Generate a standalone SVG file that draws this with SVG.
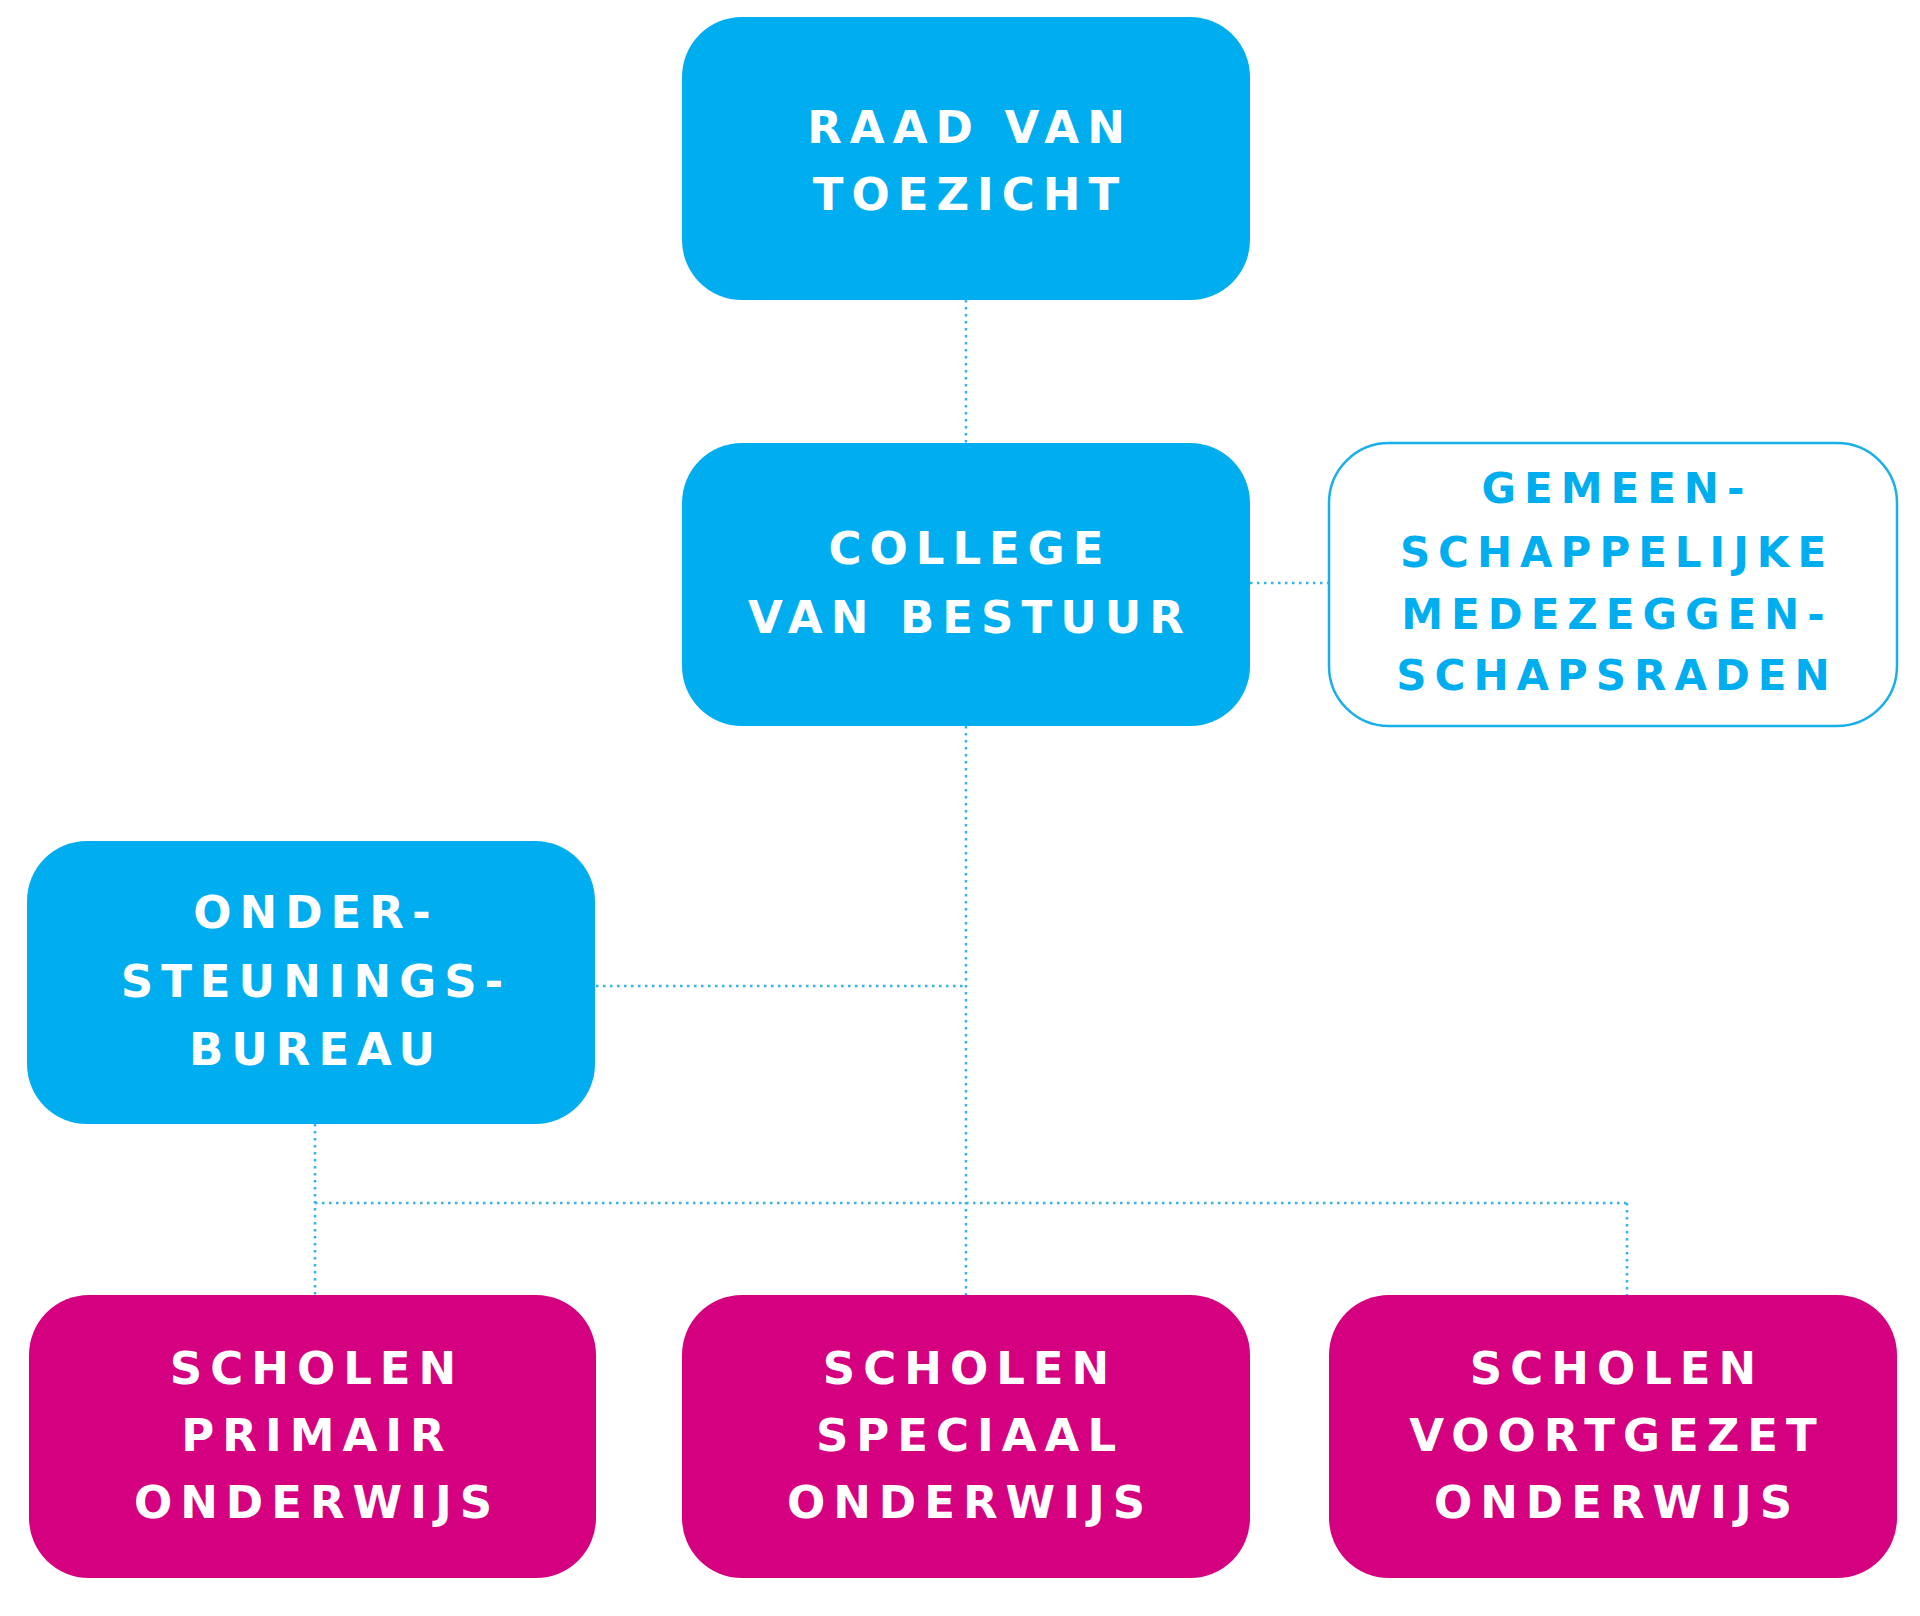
<svg xmlns="http://www.w3.org/2000/svg" width="1920" height="1616" viewBox="0 0 1920 1616">
<style>
.blue{fill:#00AEEF}
.pink{fill:#D5007F}
.outline{fill:#FFFFFF;stroke:#1AAFE8;stroke-width:2.5}
.t{font-family:"DejaVu Sans","Liberation Sans",sans-serif;font-weight:bold;font-size:45px;letter-spacing:8px;text-anchor:middle;fill:#FFFFFF}
.tb{font-family:"DejaVu Sans","Liberation Sans",sans-serif;font-weight:bold;font-size:42px;letter-spacing:8px;text-anchor:middle;fill:#00AEEF}
.c{fill:none;stroke:#38B2E6;stroke-width:2.5;stroke-dasharray:2.5 4.5}
</style>
<rect width="1920" height="1616" fill="#FFFFFF"/>
<g id="connectors">
<line class="c" x1="966" y1="300" x2="966" y2="443"/>
<line class="c" x1="1250" y1="583" x2="1329" y2="583"/>
<line class="c" x1="966" y1="726" x2="966" y2="1295"/>
<line class="c" x1="596" y1="986" x2="966" y2="986"/>
<line class="c" x1="315" y1="1124" x2="315" y2="1295"/>
<line class="c" x1="315" y1="1203" x2="1627" y2="1203"/>
<line class="c" x1="1627" y1="1203" x2="1627" y2="1295"/>
</g>
<g id="raad">
<rect class="blue" x="682" y="17" width="568" height="283" rx="60"/>
<text class="t"><tspan x="970" y="143">RAAD VAN</tspan><tspan x="970" y="210">TOEZICHT</tspan></text>
</g>
<g id="college">
<rect class="blue" x="682" y="443" width="568" height="283" rx="60"/>
<text class="t"><tspan x="970" y="564">COLLEGE</tspan><tspan x="970" y="633">VAN BESTUUR</tspan></text>
</g>
<g id="gmr">
<rect class="outline" x="1329" y="443" width="568" height="283" rx="60"/>
<text class="tb"><tspan x="1617" y="503">GEMEEN-</tspan><tspan x="1617" y="567">SCHAPPELIJKE</tspan><tspan x="1617" y="629">MEDEZEGGEN-</tspan><tspan x="1617" y="690">SCHAPSRADEN</tspan></text>
</g>
<g id="ondersteuningsbureau">
<rect class="blue" x="27" y="841" width="568" height="283" rx="60"/>
<text class="t"><tspan x="316" y="928">ONDER-</tspan><tspan x="316" y="997">STEUNINGS-</tspan><tspan x="316" y="1065">BUREAU</tspan></text>
</g>
<g id="primair">
<rect class="pink" x="29" y="1295" width="567" height="283" rx="60"/>
<text class="t"><tspan x="317" y="1384">SCHOLEN</tspan><tspan x="317" y="1451">PRIMAIR</tspan><tspan x="317" y="1518">ONDERWIJS</tspan></text>
</g>
<g id="speciaal">
<rect class="pink" x="682" y="1295" width="568" height="283" rx="60"/>
<text class="t"><tspan x="970" y="1384">SCHOLEN</tspan><tspan x="970" y="1451">SPECIAAL</tspan><tspan x="970" y="1518">ONDERWIJS</tspan></text>
</g>
<g id="voortgezet">
<rect class="pink" x="1329" y="1295" width="568" height="283" rx="60"/>
<text class="t"><tspan x="1617" y="1384">SCHOLEN</tspan><tspan x="1617" y="1451">VOORTGEZET</tspan><tspan x="1617" y="1518">ONDERWIJS</tspan></text>
</g>
</svg>
